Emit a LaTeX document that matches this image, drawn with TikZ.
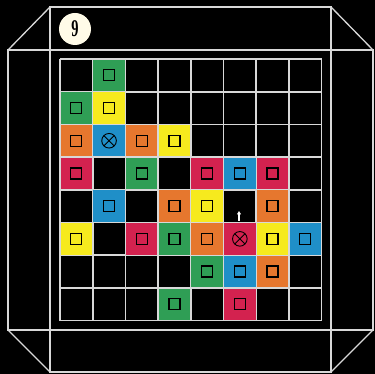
\documentclass[tikz,border=0pt]{standalone}
\usepackage{fontspec}
\setmainfont{Liberation Serif}
\usetikzlibrary{arrows.meta}
\definecolor{cgreen}{HTML}{2F9E55}
\definecolor{cyellow}{HTML}{F6EA1E}
\definecolor{corange}{HTML}{E6772E}
\definecolor{cblue}{HTML}{1F8FC8}
\definecolor{cred}{HTML}{D3224F}
\definecolor{framegrey}{HTML}{D8D8D8}
\definecolor{cream}{HTML}{FFFBE8}
\tikzset{
  frameline/.style={draw=framegrey, line width=1.3pt},
  gridline/.style={draw=framegrey, line width=1.7pt},
  cell/.style={rectangle, minimum size=31.4pt, inner sep=0pt, outer sep=0pt},
  markbox/.style={draw=black, line width=1.2pt},
  crossmark/.style={draw=black, line width=0.9pt},
}
\begin{document}
\begin{tikzpicture}[x=1pt,y=-1pt]
\fill[black] (0,0) rectangle (375,374);
\useasboundingbox (0,0) rectangle (375,374);
% frame
\draw[frameline] (50,7) rectangle (331,372);
\draw[frameline] (8,50) rectangle (373,330);
\draw[frameline] (50,7) -- (8,50);
\draw[frameline] (331,7) -- (373,50);
\draw[frameline] (8,330) -- (50,372);
\draw[frameline] (331,372) -- (373,330);
% grid
\foreach \i in {0,...,8}{
  \draw[gridline] (60+32.7*\i,59) -- (60+32.7*\i,320.6);
  \draw[gridline] (60,59+32.7*\i) -- (321.6,59+32.7*\i);
}
% coloured cells with square marks
\foreach \r/\c/\col in {0/1/cgreen, 1/0/cgreen, 1/1/cyellow,
  2/0/corange, 2/2/corange, 2/3/cyellow,
  3/0/cred, 3/2/cgreen, 3/4/cred, 3/5/cblue, 3/6/cred,
  4/1/cblue, 4/3/corange, 4/4/cyellow, 4/6/corange,
  5/0/cyellow, 5/2/cred, 5/3/cgreen, 5/4/corange, 5/6/cyellow, 5/7/cblue,
  6/4/cgreen, 6/5/cblue, 6/6/corange,
  7/3/cgreen, 7/5/cred}{
  \node[cell, fill=\col] (c\r\c) at (60+32.7*\c+16.35, 59+32.7*\r+16.35) {};
  \draw[markbox] ([shift={(-5.5,-5.5)}]c\r\c.center) rectangle ([shift={(5.5,5.5)}]c\r\c.center);
}
% coloured cells with crossed circles
\foreach \r/\c/\col in {2/1/cblue, 5/5/cred}{
  \node[cell, fill=\col] (c\r\c) at (60+32.7*\c+16.35, 59+32.7*\r+16.35) {};
  \draw[crossmark] (c\r\c.center) circle (7.3);
  \draw[crossmark] ([shift={(-5.15,-5.15)}]c\r\c.center) -- ([shift={(5.15,5.15)}]c\r\c.center);
  \draw[crossmark] ([shift={(-5.15,5.15)}]c\r\c.center) -- ([shift={(5.15,-5.15)}]c\r\c.center);
}
% small arrow
\coordinate (arrowfoot) at (239,221);
\coordinate (arrowtip) at (239,211);
\draw[white, line width=1.2pt, -{Triangle[width=4pt,length=3.5pt]}] (arrowfoot) -- (arrowtip);
% number badge
\node[circle, fill=cream, minimum size=32pt, inner sep=0pt] (badge) at (75,29)
  {\scalebox{0.6}[1]{\fontsize{24}{24}\selectfont\bfseries 9}};
\end{tikzpicture}
\end{document}
